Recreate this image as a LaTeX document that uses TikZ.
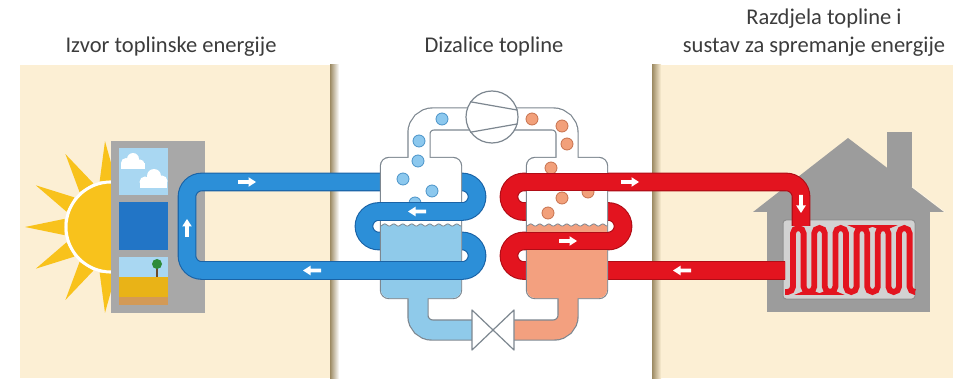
\documentclass[tikz,border=0pt]{standalone}
\usepackage{fontspec}
\setmainfont{Carlito}
\usetikzlibrary{arrows.meta}

\definecolor{beige}{HTML}{FCEFD4}
\definecolor{shadowc}{HTML}{9C8A63}
\definecolor{sunc}{HTML}{F8C21C}
\definecolor{panelgray}{HTML}{A8A8A8}
\definecolor{skyc}{HTML}{A9D7F2}
\definecolor{waterc}{HTML}{2275C6}
\definecolor{fieldc}{HTML}{E9B317}
\definecolor{soilc}{HTML}{D39A57}
\definecolor{treec}{HTML}{2E8B3A}
\definecolor{trunkc}{HTML}{6B4A2A}
\definecolor{pipeblue}{HTML}{2C8FD8}
\definecolor{pipeblueedge}{HTML}{1A63A6}
\definecolor{pipered}{HTML}{E3141F}
\definecolor{piperededge}{HTML}{B00D16}
\definecolor{vesseledge}{HTML}{7D8790}
\definecolor{coldliq}{HTML}{8FCAEA}
\definecolor{hotliq}{HTML}{F3A07F}
\definecolor{bubbleblue}{HTML}{8CC8EE}
\definecolor{bubblebluedge}{HTML}{4A93C8}
\definecolor{bubbleorange}{HTML}{F2A07A}
\definecolor{bubbleorangeedge}{HTML}{C7724E}
\definecolor{housec}{HTML}{9C9C9C}
\definecolor{radc}{HTML}{D2D2D2}
\definecolor{raded}{HTML}{8E8E8E}
\definecolor{titlec}{HTML}{3C3C3C}

\tikzset{
  title/.style={font=\fontsize{22.5}{28}\selectfont, text=titlec, inner sep=0pt, anchor=base},
  bluepipe/.style={draw=pipeblueedge, line width=1.1, double=pipeblue, double distance=16.5, rounded corners=14.75},
  redpipe/.style={draw=piperededge, line width=1.1, double=pipered, double distance=16.5, rounded corners=14.75},
  coldbubble/.style={fill=bubbleblue, draw=bubblebluedge, line width=0.8},
  hotbubble/.style={fill=bubbleorange, draw=bubbleorangeedge, line width=0.8},
  vesselline/.style={draw=vesseledge, line width=1.2},
  flowarrow/.pic={\fill[white] (-9,-1.9) -- (1.5,-1.9) -- (1.5,-4.8) -- (9,0) -- (1.5,4.8) -- (1.5,1.9) -- (-9,1.9) -- cycle;}
}

\begin{document}
\begin{tikzpicture}[x=1pt, y=-1pt]
\useasboundingbox (0,0) rectangle (964,382);
\fill[white] (0,0) rectangle (964,382);

% ---------- titles ----------
\node[title] (t1) at (171,53) {Izvor toplinske energije};
\node[title] (t2) at (494,53) {Dizalice topline};
\node[title] (t3a) at (824,25) {Razdjela topline i};
\node[title] (t3b) at (814,53) {sustav za spremanje energije};

% ---------- panels ----------
\fill[beige] (20,65) rectangle (330,378);
\fill[beige] (652,65) rectangle (953,378);
\shade[left color=shadowc, right color=white] (330,65) rectangle (339,378);
\shade[left color=shadowc, right color=beige] (652,65) rectangle (661,378);

% ---------- sun ----------
\begin{scope}[shift={(111,227)}]
  \foreach \a in {180,151,122,94,209,238,266}
    \fill[sunc] (\a-10:47) -- (\a:86) -- (\a+10:47) -- cycle;
  \draw[fill=sunc, draw=white, line width=3] (0,0) circle (45);
\end{scope}

% ---------- heat sources column ----------
\fill[panelgray] (111,141) rectangle (205,313);
\fill[skyc] (119,148) rectangle (168,195);
\fill[white] (121,163) rectangle (145,169);
\fill[white] (126,163) circle (5) (133,159) circle (6) (140,164) circle (4.5);
\fill[white] (140,181) rectangle (167,188);
\fill[white] (145,182) circle (5.5) (154,176) circle (7) (162,181) circle (5.5);
\fill[waterc] (119,202) rectangle (168,250);
\fill[skyc] (119,257) rectangle (168,277);
\fill[fieldc] (119,277) rectangle (168,297);
\fill[soilc] (119,297) rectangle (168,305);
\fill[trunkc] (156.3,265) rectangle (157.7,277);
\fill[treec] (157,264) circle (5);

% ---------- house ----------
\fill[housec] (887,132) rectangle (912,190);
\fill[housec] (753,212) -- (848,138) -- (945,212) -- cycle;
\fill[housec] (767,210) rectangle (930,312);
\draw[beige!70!white, line width=1] (912,186.8) -- (945,212);
\draw[fill=radc, draw=raded, line width=1, rounded corners=3] (783,220) rectangle (915,299);
\draw[pipered, line width=5.8, rounded corners=5.3]
  (785,292) -- (793,292) -- (793,228) -- (803.6,228) -- (803.6,292) -- (814.2,292) -- (814.2,228)
  -- (824.8,228) -- (824.8,292) -- (835.4,292) -- (835.4,228) -- (846,228) -- (846,292)
  -- (856.6,292) -- (856.6,228) -- (867.2,228) -- (867.2,292) -- (877.8,292) -- (877.8,228)
  -- (888.4,228) -- (888.4,292) -- (899,292) -- (899,228) -- (909.6,228) -- (909.6,292) -- (915,292);

% ---------- brine circuit (cold side) ----------
\draw[bluepipe] (300,182) -- (187,182) -- (187,270.5) -- (477,270.5) -- (477,241) -- (364,241)
  -- (364,211.5) -- (477,211.5) -- (477,182) -- cycle;

% evaporator: outlines first, then fills so that the outlines merge
\draw[vesseledge, line width=2.4, fill=white, rounded corners=8] (381,158) rectangle (461,298);
\draw[vesseledge, line width=23.4, rounded corners=14] (419,170) -- (419,119) -- (474,119);
\draw[vesseledge, line width=21.4, rounded corners=14] (418,285) -- (418,330) -- (478,330);
\fill[white, rounded corners=8] (381,158) rectangle (461,298);
\draw[white, line width=21, rounded corners=14] (419,170) -- (419,119) -- (474,119);
\draw[coldliq, line width=19, rounded corners=14] (418,285) -- (418,330) -- (478,330);
\begin{scope}
  \clip[rounded corners=8] (381,158) rectangle (461,298);
  \fill[coldliq] plot[domain=0:86, samples=90, smooth] ({\x+378},{225+1.1*sin(40*\x)}) -- (464,300) -- (378,300) -- cycle;
  \draw[vesseledge, line width=0.8] plot[domain=0:86, samples=90, smooth] ({\x+378},{225+1.1*sin(40*\x)});
\end{scope}
\foreach \p in {(442,119),(419,141),(418,161),(403,179),(432,191),(415,203)}
  \draw[coldbubble] \p circle (6);
\draw[bluepipe] (379,211.5) -- (462.5,211.5);
\draw[bluepipe] (379,270.5) -- (462.5,270.5);

% ---------- heating circuit (hot side) ----------
\draw[redpipe] (785,270.5) -- (509,270.5) -- (509,241) -- (623,241) -- (623,211.5) -- (509,211.5)
  -- (509,182) -- (801,182) -- (801,226);

% condenser
\draw[vesseledge, line width=2.4, fill=white, rounded corners=8] (527,158) rectangle (607,298);
\draw[vesseledge, line width=23.4, rounded corners=14] (567,170) -- (567,119) -- (510,119);
\draw[vesseledge, line width=21.4, rounded corners=14] (568,285) -- (568,330) -- (508,330);
\fill[white, rounded corners=8] (527,158) rectangle (607,298);
\draw[white, line width=21, rounded corners=14] (567,170) -- (567,119) -- (510,119);
\draw[hotliq, line width=19, rounded corners=14] (568,285) -- (568,330) -- (508,330);
\begin{scope}
  \clip[rounded corners=8] (527,158) rectangle (607,298);
  \fill[hotliq] plot[domain=0:86, samples=90, smooth] ({\x+524},{225+1.1*sin(40*\x)}) -- (610,300) -- (524,300) -- cycle;
  \draw[vesseledge, line width=0.8] plot[domain=0:86, samples=90, smooth] ({\x+524},{225+1.1*sin(40*\x)});
\end{scope}
\foreach \p in {(532,119),(562,126),(567,144),(551,168),(588,192),(562,198),(548,213)}
  \draw[hotbubble] \p circle (6);
\draw[redpipe] (523.5,182) -- (608.5,182);
\draw[redpipe] (523.5,241) -- (608.5,241);

% ---------- compressor and expansion valve ----------
\node[circle, vesselline, fill=white, minimum size=52, inner sep=0pt] (comp) at (492,117) {};
\draw[vesselline] (comp.145) -- (comp.15);
\draw[vesselline] (comp.-145) -- (comp.-15);
\draw[vesselline, fill=white, line join=round] (472,310) -- (493,330) -- (472,350) -- cycle;
\draw[vesselline, fill=white, line join=round] (514,310) -- (493,330) -- (514,350) -- cycle;

% ---------- flow arrows ----------
\pic at (247,182) {flowarrow};
\pic[rotate=90] at (187,228) {flowarrow};
\pic[rotate=180] at (312,270.5) {flowarrow};
\pic[rotate=180] at (417,211.5) {flowarrow};
\pic at (630,182) {flowarrow};
\pic at (568,241) {flowarrow};
\pic[rotate=180] at (682,270.5) {flowarrow};
\pic[rotate=-90] at (801,204) {flowarrow};
\end{tikzpicture}
\end{document}
